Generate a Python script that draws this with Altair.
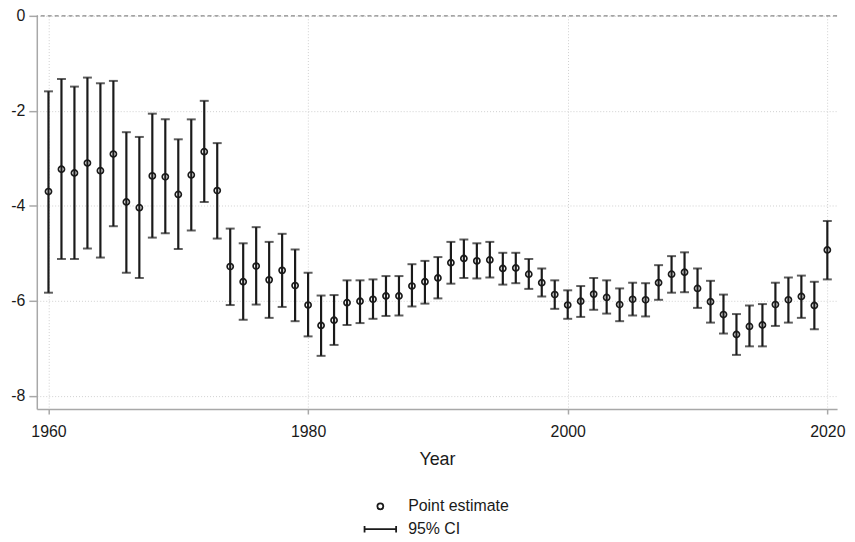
import altair as alt
import pandas as pd

years = list(range(1960, 2021))
estimate = [-3.70, -3.23, -3.31, -3.10, -3.26, -2.91, -3.92, -4.04, -3.37, -3.39,
            -3.76, -3.35, -2.86, -3.68, -5.28, -5.60, -5.27, -5.56, -5.36, -5.68,
            -6.09, -6.52, -6.41, -6.04, -6.01, -5.97, -5.90, -5.90, -5.69, -5.60,
            -5.52, -5.20, -5.11, -5.16, -5.14, -5.32, -5.31, -5.44, -5.62, -5.87,
            -6.09, -6.01, -5.86, -5.93, -6.08, -5.97, -5.98, -5.62, -5.44, -5.40,
            -5.74, -6.02, -6.29, -6.71, -6.54, -6.51, -6.08, -5.98, -5.91, -6.10,
            -4.93]
ci_upper = [-1.59, -1.33, -1.49, -1.30, -1.42, -1.37, -2.45, -2.55, -2.06, -2.18,
            -2.60, -2.18, -1.79, -2.68, -4.48, -4.79, -4.45, -4.76, -4.59, -4.92,
            -5.41, -5.89, -5.88, -5.57, -5.57, -5.55, -5.48, -5.48, -5.23, -5.16,
            -5.08, -4.76, -4.71, -4.79, -4.76, -4.99, -4.99, -5.12, -5.32, -5.57,
            -5.78, -5.69, -5.52, -5.57, -5.74, -5.62, -5.63, -5.25, -5.06, -4.98,
            -5.32, -5.58, -5.87, -6.28, -6.10, -6.07, -5.62, -5.51, -5.47, -5.60,
            -4.32]
ci_lower = [-5.83, -5.12, -5.12, -4.90, -5.09, -4.43, -5.41, -5.52, -4.67, -4.58,
            -4.91, -4.52, -3.92, -4.69, -6.09, -6.40, -6.08, -6.36, -6.13, -6.43,
            -6.75, -7.16, -6.93, -6.51, -6.47, -6.38, -6.32, -6.31, -6.12, -6.06,
            -5.95, -5.64, -5.52, -5.53, -5.51, -5.66, -5.63, -5.75, -5.91, -6.17,
            -6.38, -6.34, -6.19, -6.27, -6.43, -6.31, -6.33, -5.98, -5.83, -5.82,
            -6.15, -6.46, -6.69, -7.14, -6.96, -6.96, -6.53, -6.46, -6.36, -6.60,
            -5.55]
x_ticks = [1960, 1980, 2000, 2020]
y_ticks = [0, -2, -4, -6, -8]
legend_labels = ["Point estimate", "95% CI"]

df = pd.DataFrame({"year": years, "est": estimate, "lo": ci_lower, "hi": ci_upper,
                   "series": legend_labels[0]})

FONT = "Liberation Sans"
DARK = "#1a1a1a"
GRID = "#d0d0d0"
AXIS = "#a8a8a8"

xscale = alt.Scale(domain=[1959.1, 2020.75], nice=False, zero=False)
yscale = alt.Scale(domain=[-8.28, 0], nice=False, zero=False)

xenc = alt.X("year:Q", scale=xscale,
             axis=alt.Axis(values=x_ticks, format="d", title="Year",
                           grid=True, gridDash=[1, 2], gridColor=GRID,
                           domainColor=AXIS, domainWidth=1.5, tickColor=AXIS,
                           tickWidth=1.5, tickSize=5, labelPadding=10,
                           labelFontSize=16, labelColor=DARK, labelFont=FONT,
                           titleFontSize=18, titleFont=FONT, titleColor=DARK,
                           titleFontWeight="normal", titlePadding=11))
yaxis = alt.Axis(values=y_ticks, title=None, grid=True, gridDash=[1, 2],
                 gridColor=GRID, domainColor=AXIS, domainWidth=1.5,
                 tickColor=AXIS, tickWidth=1.5, tickSize=8, labelPadding=4,
                 labelFontSize=16, labelColor=DARK, labelFont=FONT,
                 labelExpr="'' + datum.value")

base = alt.Chart(df)

zero = alt.Chart(pd.DataFrame({"z": [0]})).mark_rule(
    color="#888888", strokeDash=[4, 3], strokeWidth=1.2
).encode(y=alt.Y("z:Q", scale=yscale, axis=yaxis))

bars = base.mark_rule(color=DARK, strokeWidth=2.2).encode(
    x=xenc, y=alt.Y("lo:Q", scale=yscale), y2="hi:Q")

cap_lo = base.mark_tick(color=DARK, orient="horizontal", size=9, thickness=2).encode(
    x=alt.X("year:Q", scale=xscale), y=alt.Y("lo:Q", scale=yscale))
cap_hi = base.mark_tick(color=DARK, orient="horizontal", size=9, thickness=2).encode(
    x=alt.X("year:Q", scale=xscale), y=alt.Y("hi:Q", scale=yscale))

ci_path = "M-5.3,0H5.3M-5.3,-1.1V1.1M5.3,-1.1V1.1"
points = base.mark_point(shape="circle", filled=False, size=38, strokeWidth=1.7,
                         color=DARK, opacity=1).encode(
    x=alt.X("year:Q", scale=xscale),
    y=alt.Y("est:Q", scale=yscale),
    shape=alt.Shape("series:N",
                    scale=alt.Scale(domain=legend_labels, range=["circle", ci_path]),
                    legend=alt.Legend(title=None, orient="none", legendX=338,
                                      legendY=486, direction="vertical",
                                      symbolSize=36, symbolStrokeWidth=1.8,
                                      symbolStrokeColor=DARK,
                                      symbolOpacity=1,
                                      labelFontSize=16, labelFont=FONT,
                                      labelColor=DARK, labelOffset=20,
                                      rowPadding=7, padding=0)))

chart = alt.layer(zero, bars, cap_lo, cap_hi, points).properties(
    width=806, height=396,
    autosize=alt.AutoSizeParams(type="none"),
    padding={"left": 29, "top": 6, "right": 10, "bottom": 130},
    background="white",
).configure_view(stroke=None)

chart.save("out.html", embed_options={"renderer": "svg", "actions": False})
